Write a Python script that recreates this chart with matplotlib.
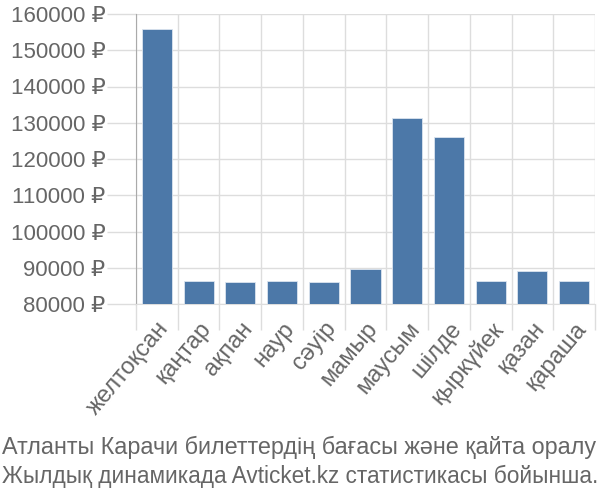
import matplotlib
matplotlib.use("Agg")
import matplotlib.pyplot as plt
import numpy as np
from matplotlib.ticker import FixedLocator, FuncFormatter

months = ["желтоқсан", "қаңтар", "ақпан", "наур", "сәуір", "мамыр",
          "маусым", "шілде", "қыркүйек", "қазан", "қараша"]
prices = [155800, 86300, 86200, 86300, 86200, 89600,
          131300, 126200, 86300, 89100, 86300]
yticks = [80000, 90000, 100000, 110000, 120000, 130000, 140000, 150000, 160000]
title_lines = ["Атланты Карачи билеттердің бағасы және қайта оралу",
               "Жылдық динамикада Avticket.kz статистикасы бойынша."]

plt.rcParams['font.family'] = ['Liberation Sans', 'DejaVu Sans']

fig = plt.figure(figsize=(6, 5), dpi=100)
ax = fig.add_axes([136/600, 1-304/500, (595-136)/600, (304-14)/500])

x = np.arange(len(months))
ax.bar(x, prices, width=0.72, color="#4c78a8", edgecolor="#dbe4ef", linewidth=0.6, zorder=3)

ax.set_xlim(-0.5, len(months)-0.5)
ax.set_ylim(80000, 160000)
ax.set_yticks(yticks)
ax.yaxis.set_major_formatter(FuncFormatter(lambda v, p: f"{int(v)} ₽"))
ax.set_xticks(x)
ax.set_xticklabels(months, rotation=50, ha="right", rotation_mode="anchor")
ax.xaxis.set_minor_locator(FixedLocator(np.arange(-0.5, len(months), 1.0)))

ax.tick_params(axis="x", which="major", length=0, pad=10, labelsize=17, labelcolor="#666666")
ax.tick_params(axis="x", which="minor", length=19, color="#dddddd", width=1)
ax.tick_params(axis="y", length=21, color="#dddddd", width=1, pad=1, labelsize=16, labelcolor="#666666")

ax.grid(True, axis="y", color="#dddddd", linewidth=1, zorder=0)
ax.grid(True, axis="x", which="minor", color="#dddddd", linewidth=1, zorder=0)
for s in ["top", "right"]:
    ax.spines[s].set_visible(False)
ax.spines["left"].set_color("#aaaaaa")
ax.spines["left"].set_bounds(80000, 160000)
ax.spines["bottom"].set_color("#dddddd")

renderer = fig.canvas.get_renderer()
targets = [596, 597]
ys = [447, 476]
for line, tw, yy in zip(title_lines, targets, ys):
    t = fig.text(2/600, 1-yy/500, line, fontsize=16.8, color="#666666", va="center", ha="left")
    w = t.get_window_extent(renderer).width
    t.set_fontsize(16.8 * tw / w)

fig.savefig("out.png", dpi=100)
